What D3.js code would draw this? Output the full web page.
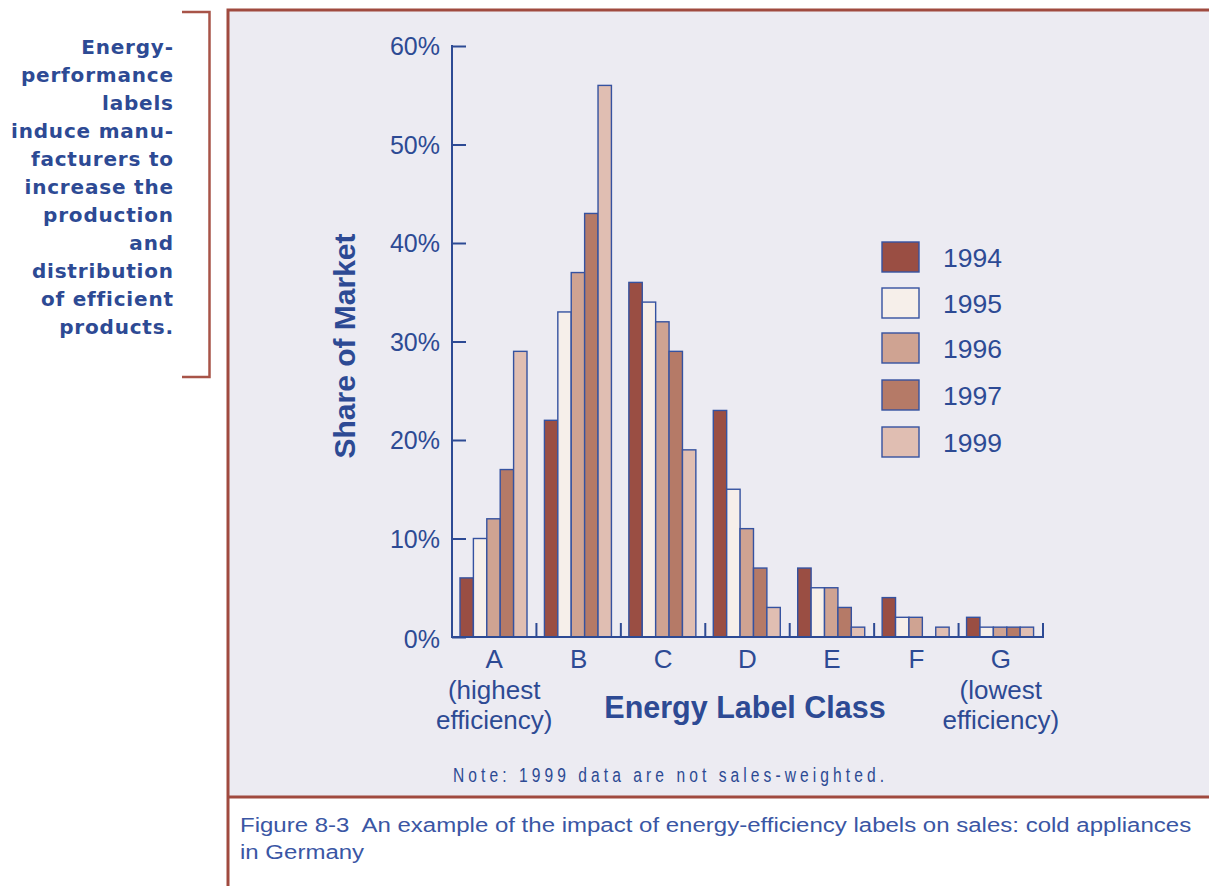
<!DOCTYPE html>
<html>
<head>
<meta charset="utf-8">
<script src="https://cdn.jsdelivr.net/npm/d3@7/dist/d3.min.js"></script>
<style>
  html, body { margin: 0; padding: 0; background: #ffffff; }
  svg { display: block; }
</style>
</head>
<body>
<svg id="chart" width="1209" height="886"></svg>
<script>
// ---------- data ----------
const classes = ["A", "B", "C", "D", "E", "F", "G"];
const years = ["1994", "1995", "1996", "1997", "1999"];
const share1994 = [6, 22, 36, 23, 7, 4, 2];
const share1995 = [10, 33, 34, 15, 5, 2, 1];
const share1996 = [12, 37, 32, 11, 5, 2, 1];
const share1997 = [17, 43, 29, 7, 3, 0, 1];
const share1999 = [29, 56, 19, 3, 1, 1, 1];
const yTicks = [0, 10, 20, 30, 40, 50, 60];
const sideText = ["Energy-", "performance", "labels", "induce manu-", "facturers to",
  "increase the", "production", "and", "distribution", "of efficient", "products."];
const noteText = "Note: 1999 data are not sales-weighted.";
const captionLines = ["Figure 8-3\u00a0 An example of the impact of energy-efficiency labels on sales: cold appliances", "in Germany"];

const series = [share1994, share1995, share1996, share1997, share1999];
const fills = ["#9a4e43", "#f6efea", "#cfa392", "#b57a67", "#e0beb2"];

// ---------- layout ----------
const svg = d3.select("#chart");
const blue = "#2d4a94";
const border = "#a04a3f";

// panel
svg.append("rect").attr("x", 228).attr("y", 10).attr("width", 1000).attr("height", 787)
  .attr("fill", "#ecebf2");
svg.append("path").attr("d", "M228,886 V10 H1212").attr("fill", "none")
  .attr("stroke", border).attr("stroke-width", 3);
svg.append("line").attr("x1", 228).attr("x2", 1212).attr("y1", 797).attr("y2", 797)
  .attr("stroke", border).attr("stroke-width", 3);

// side bracket
svg.append("path").attr("d", "M182,12 H209.5 V377 H182").attr("fill", "none")
  .attr("stroke", "#a85448").attr("stroke-width", 2.5);

svg.append("g").selectAll("text").data(sideText).join("text")
  .attr("x", 173.8).attr("y", (d, i) => 54 + i * 28)
  .attr("text-anchor", "end")
  .attr("font-family", "DejaVu Sans, Verdana, sans-serif")
  .attr("font-weight", "bold").attr("font-size", 20)
  .attr("letter-spacing", 0.8)
  .attr("fill", blue).text(d => d);

// scales
const x0 = d3.scaleBand().domain(classes).range([452, 1043]).padding(0);
const x1 = d3.scaleBand().domain(years).range([8, 8 + 67]).padding(0);
const y = d3.scaleLinear().domain([0, 60]).range([637, 46]);

const font = "Liberation Sans, Arial, Helvetica, sans-serif";

// bars
const g = svg.append("g");
classes.forEach((c, ci) => {
  const data = years.map((yr, si) => ({ yr, si, v: series[si][ci] })).filter(d => d.v > 0);
  g.selectAll(null).data(data).enter().append("rect")
    .attr("x", d => x0(c) + x1(d.yr))
    .attr("y", d => y(d.v))
    .attr("width", x1.bandwidth())
    .attr("height", d => y(0) - y(d.v))
    .attr("fill", d => fills[d.si])
    .attr("stroke", "#3552a0").attr("stroke-width", 1.4);
});

// y axis
const yAxis = d3.axisRight(y).tickValues(yTicks).tickSize(14).tickFormat("");
const ya = svg.append("g").attr("transform", "translate(452,0)").call(yAxis);
ya.select(".domain").remove();
ya.selectAll(".tick line").attr("stroke", blue).attr("stroke-width", 2);
svg.append("line").attr("x1", 452).attr("x2", 452).attr("y1", 45).attr("y2", 638)
  .attr("stroke", blue).attr("stroke-width", 2);
svg.append("g").selectAll("text").data(yTicks).join("text")
  .attr("x", 440).attr("y", d => y(d) + (d === 0 ? 11 : 9))
  .attr("text-anchor", "end").attr("font-family", font).attr("font-size", 25)
  .attr("fill", blue).text(d => d + "%");

// x axis
svg.append("line").attr("x1", 451).attr("x2", 1044).attr("y1", 637).attr("y2", 637)
  .attr("stroke", blue).attr("stroke-width", 2);
svg.append("g").selectAll("line").data(classes).join("line")
  .attr("x1", d => x0(d) + x0.bandwidth()).attr("x2", d => x0(d) + x0.bandwidth())
  .attr("y1", 637).attr("y2", 623)
  .attr("stroke", blue).attr("stroke-width", 2);
svg.append("g").selectAll("text").data(classes).join("text")
  .attr("x", d => x0(d) + x0.bandwidth() / 2).attr("y", 668)
  .attr("text-anchor", "middle").attr("font-family", font).attr("font-size", 26)
  .attr("fill", blue).text(d => d);

const sub = [["A", "(highest", "efficiency)"], ["G", "(lowest", "efficiency)"]];
sub.forEach(s => {
  const cx = x0(s[0]) + x0.bandwidth() / 2;
  [s[1], s[2]].forEach((t, i) => {
    svg.append("text").attr("x", cx).attr("y", 699 + i * 30)
      .attr("text-anchor", "middle").attr("font-family", font).attr("font-size", 26)
      .attr("fill", blue).text(t);
  });
});

// axis titles
svg.append("text").attr("x", 745).attr("y", 718).attr("text-anchor", "middle")
  .attr("font-family", font).attr("font-weight", "bold").attr("font-size", 30.5)
  .attr("fill", blue).text("Energy Label Class");
svg.append("text").attr("transform", "translate(355,346) rotate(-90)")
  .attr("text-anchor", "middle")
  .attr("font-family", font).attr("font-weight", "bold").attr("font-size", 30)
  .attr("fill", blue).text("Share of Market");

// legend
const leg = svg.append("g");
years.forEach((yr, i) => {
  const ly = [242, 288, 333, 380, 427][i];
  leg.append("rect").attr("x", 882).attr("y", ly).attr("width", 37).attr("height", 30)
    .attr("fill", fills[i]).attr("stroke", "#3552a0").attr("stroke-width", 1.4);
  leg.append("text").attr("x", 943).attr("y", ly + 25)
    .attr("font-family", font).attr("font-size", 26.5).attr("fill", blue).text(yr);
});

// note (narrow, spaced)
const sx = 0.8;
svg.append("text").attr("transform", `translate(453,782) scale(${sx},1)`)
  .attr("font-family", font)
  .attr("font-size", 19.5).attr("fill", blue)
  .attr("textLength", 431 / sx).attr("lengthAdjust", "spacing")
  .text(noteText);

// caption (narrow, same horizontal compression for both lines)
const capSize = 21;
const cap = svg.append("g");
const capTexts = captionLines.map((t, i) => cap.append("text")
  .attr("x", 0).attr("y", 0)
  .attr("font-family", font).attr("font-size", capSize).attr("fill", "#3a56a4")
  .text(t));
const natural = capTexts[0].node().getComputedTextLength();
const cx = 952 / natural;
capTexts.forEach((tx, i) => {
  tx.attr("transform", `translate(240,${832 + i * 27}) scale(${cx},1)`);
});
</script>
</body>
</html>
